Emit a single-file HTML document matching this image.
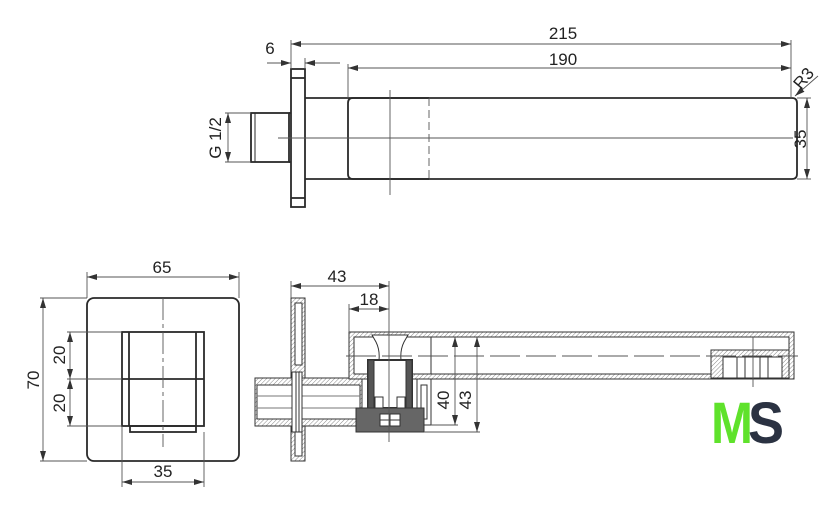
<!DOCTYPE html>
<html><head><meta charset="utf-8"><style>
html,body{margin:0;padding:0;background:#fff;}
svg{display:block;}
text{font-family:"Liberation Sans Narrow","Liberation Sans",sans-serif;font-size:17px;fill:#222;}
</style></head><body>
<svg width="840" height="507" viewBox="0 0 840 507" xmlns="http://www.w3.org/2000/svg">
<defs>
<marker id="a" viewBox="0 0 10 6" refX="10" refY="3" markerWidth="10" markerHeight="6" orient="auto-start-reverse" markerUnits="userSpaceOnUse"><path d="M0,0 L10,3 L0,6 z" fill="#333"/></marker>
<pattern id="h" width="3" height="3" patternUnits="userSpaceOnUse" patternTransform="rotate(45)"><rect width="3" height="3" fill="#fff"/><line x1="0" y1="0" x2="0" y2="3" stroke="#888" stroke-width="1"/></pattern>
</defs>
<g fill="none" stroke="#2a2a2a" stroke-width="1.8">
<rect x="291" y="69" width="14" height="138"/>
<line x1="291" y1="78" x2="305" y2="78"/><line x1="291" y1="198" x2="305" y2="198"/>
<path d="M305,98 H792 Q797,98 797,103 V174 Q797,179 792,179 H305"/>
<path d="M429,98 H353 Q348,98 348,103 V174 Q348,179 353,179 H429"/>
<rect x="251" y="113" width="38" height="49"/>
<line x1="255" y1="113" x2="255" y2="162" stroke-width="1"/>
<line x1="289" y1="113" x2="291" y2="113"/><line x1="289" y1="162" x2="291" y2="162"/>
</g>
<g fill="none" stroke="#555" stroke-width="0.9">
<line x1="429" y1="98" x2="429" y2="179" stroke-dasharray="8,4"/>
<line x1="390" y1="90" x2="390" y2="195"/>
<line x1="278" y1="138" x2="793" y2="138"/>
<line x1="291" y1="40" x2="291" y2="69"/><line x1="305" y1="58" x2="305" y2="69"/>
<line x1="791" y1="40" x2="791" y2="98"/>
<line x1="348" y1="64" x2="348" y2="98"/>
<line x1="291" y1="44" x2="791" y2="44" marker-start="url(#a)" marker-end="url(#a)"/>
<line x1="348" y1="68" x2="791" y2="68" marker-start="url(#a)" marker-end="url(#a)"/>
<line x1="267" y1="63" x2="291" y2="63" marker-end="url(#a)"/>
<line x1="340" y1="63" x2="305" y2="63" marker-end="url(#a)"/>
<line x1="225" y1="113" x2="251" y2="113"/><line x1="225" y1="162" x2="251" y2="162"/>
<line x1="228" y1="113" x2="228" y2="162" marker-start="url(#a)" marker-end="url(#a)"/>
<line x1="797" y1="98" x2="811" y2="98"/><line x1="797" y1="179" x2="811" y2="179"/>
<line x1="807" y1="98" x2="807" y2="179" marker-start="url(#a)" marker-end="url(#a)"/>
<line x1="818" y1="76" x2="795" y2="96" marker-end="url(#a)"/>
</g>
<text x="563" y="39" text-anchor="middle">215</text>
<text x="563" y="65" text-anchor="middle">190</text>
<text x="270" y="54" text-anchor="middle">6</text>
<text transform="translate(221,138) rotate(-90)" text-anchor="middle">G 1/2</text>
<text transform="translate(806,139) rotate(-90)" text-anchor="middle">35</text>
<text transform="translate(808,82) rotate(-50)" text-anchor="middle">R3</text>

<g fill="none" stroke="#2a2a2a" stroke-width="1.8">
<rect x="87" y="298" width="152" height="163" rx="7"/>
<rect x="122" y="332" width="82" height="94"/>
<line x1="129" y1="332" x2="129" y2="426"/><line x1="196" y1="332" x2="196" y2="426"/>
<line x1="122" y1="379" x2="204" y2="379"/>
<rect x="130" y="426" width="66" height="6"/>
</g>
<g fill="none" stroke="#555" stroke-width="0.9">
<line x1="163" y1="298" x2="163" y2="447" stroke-dasharray="22,4,4,4"/>
<line x1="87" y1="272" x2="87" y2="298"/><line x1="239" y1="272" x2="239" y2="298"/>
<line x1="87" y1="277" x2="239" y2="277" marker-start="url(#a)" marker-end="url(#a)"/>
<line x1="40" y1="298" x2="87" y2="298"/><line x1="40" y1="461" x2="87" y2="461"/>
<line x1="43" y1="298" x2="43" y2="461" marker-start="url(#a)" marker-end="url(#a)"/>
<line x1="67" y1="332" x2="122" y2="332"/><line x1="67" y1="379" x2="122" y2="379"/><line x1="67" y1="426" x2="122" y2="426"/>
<line x1="70" y1="332" x2="70" y2="379" marker-start="url(#a)" marker-end="url(#a)"/>
<line x1="70" y1="379" x2="70" y2="426" marker-start="url(#a)" marker-end="url(#a)"/>
<line x1="122" y1="426" x2="122" y2="487"/><line x1="204" y1="432" x2="204" y2="487"/>
<line x1="122" y1="482" x2="204" y2="482" marker-start="url(#a)" marker-end="url(#a)"/>
</g>
<text x="162" y="273" text-anchor="middle">65</text>
<text transform="translate(39,380) rotate(-90)" text-anchor="middle">70</text>
<text transform="translate(65,355) rotate(-90)" text-anchor="middle">20</text>
<text transform="translate(65,403) rotate(-90)" text-anchor="middle">20</text>
<text x="163" y="477" text-anchor="middle">35</text>

<g stroke="#333" stroke-width="1">
<rect x="291" y="298" width="14" height="163" fill="url(#h)"/>
<rect x="295" y="303" width="7" height="62" fill="#fff"/>
<rect x="295" y="432" width="7" height="24" fill="#fff"/>
<rect x="255" y="378" width="107" height="48" fill="url(#h)"/>
<rect x="257" y="385" width="103" height="34" fill="#fff"/>
<line x1="257" y1="396" x2="360" y2="396" stroke="#777"/><line x1="257" y1="408" x2="360" y2="408" stroke="#777"/>
<rect x="292" y="372" width="10" height="60" fill="#fff"/>
<line x1="296" y1="372" x2="296" y2="432"/><line x1="299" y1="372" x2="299" y2="432"/>
<rect x="349" y="332" width="445" height="47" fill="url(#h)"/>
<rect x="354" y="337" width="435" height="37" fill="#fff"/>
<path d="M431,337 V374" />
<rect x="711" y="350" width="78" height="28" fill="url(#h)"/>
<rect x="723" y="357" width="59" height="21" fill="#fff"/>
<line x1="737" y1="357" x2="737" y2="378"/><line x1="745" y1="357" x2="745" y2="378"/><line x1="760" y1="357" x2="760" y2="378"/><line x1="768" y1="357" x2="768" y2="378"/>
<rect x="417" y="379" width="14" height="46" fill="#fff"/>
<rect x="421" y="385" width="6" height="34" fill="#fff"/>
<path d="M372,335 H408 L404,342 Q400,350 401,360 H379 Q380,350 376,342 Z" fill="#fff"/>
<rect x="368" y="360" width="44" height="48" fill="#fff" stroke-width="2"/>
<rect x="368" y="360" width="6" height="48" fill="#555"/>
<rect x="406" y="360" width="6" height="48" fill="#555"/>
<rect x="375" y="397" width="8" height="11" fill="#fff"/><rect x="397" y="397" width="8" height="11" fill="#fff"/>
<rect x="356" y="408" width="68" height="24" fill="#666"/>
<rect x="380" y="414" width="20" height="12" fill="#fff"/>
<line x1="390" y1="414" x2="390" y2="426"/><line x1="380" y1="420" x2="400" y2="420"/>
</g>
<g fill="none" stroke="#555" stroke-width="0.9">
<line x1="346" y1="356" x2="798" y2="356" stroke-dasharray="30,6"/>
<line x1="753" y1="337" x2="753" y2="387"/>
<line x1="389" y1="281" x2="389" y2="442"/>
<line x1="291" y1="281" x2="291" y2="298"/>
<line x1="349" y1="304" x2="349" y2="332"/>
<line x1="291" y1="286" x2="389" y2="286" marker-start="url(#a)" marker-end="url(#a)"/>
<line x1="349" y1="309" x2="389" y2="309" marker-start="url(#a)" marker-end="url(#a)"/>
<line x1="431" y1="425" x2="458" y2="425"/><line x1="424" y1="432" x2="480" y2="432"/>
<line x1="455" y1="337" x2="455" y2="425" marker-start="url(#a)" marker-end="url(#a)"/>
<line x1="477" y1="337" x2="477" y2="432" marker-start="url(#a)" marker-end="url(#a)"/>
</g>
<text x="337" y="282" text-anchor="middle">43</text>
<text x="369" y="305" text-anchor="middle">18</text>
<text transform="translate(449,400) rotate(-90)" text-anchor="middle">40</text>
<text transform="translate(471,400) rotate(-90)" text-anchor="middle">43</text>

<text x="711" y="443" style="font-family:'Liberation Sans',sans-serif;font-size:58px;font-weight:bold;fill:#5fe22b" textLength="42" lengthAdjust="spacingAndGlyphs">M</text>
<text x="748" y="443" style="font-family:'Liberation Sans',sans-serif;font-size:58px;font-weight:bold;fill:#2b3242" textLength="36" lengthAdjust="spacingAndGlyphs">S</text>
</svg>
</body></html>
